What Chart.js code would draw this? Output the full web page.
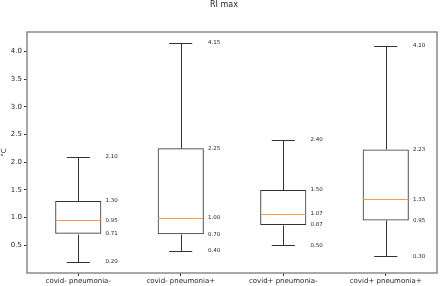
<!DOCTYPE html>
<html>
<head>
<meta charset="utf-8">
<script src="https://cdn.jsdelivr.net/npm/chart.js@4/dist/chart.umd.min.js"></script>
<style>
  html, body { margin: 0; padding: 0; background: #ffffff; }
  #wrap { width: 440px; height: 286px; position: relative; }
</style>
</head>
<body>
<div id="wrap"><canvas id="c" width="440" height="286"></canvas></div>
<script>
// ---- data ----
const chartTitle = 'RI max';
const yAxisLabel = '°C';
const categories = ['covid- pneumonia-', 'covid- pneumonia+', 'covid+ pneumonia-', 'covid+ pneumonia+'];
const whiskerLow  = [0.20, 0.40, 0.50, 0.30];
const q1Values    = [0.71, 0.70, 0.87, 0.95];
const medians     = [0.95, 1.00, 1.07, 1.33];
const q3Values    = [1.30, 2.25, 1.50, 2.23];
const whiskerHigh = [2.10, 4.15, 2.40, 4.10];
const yTickValues = [0.5, 1.0, 1.5, 2.0, 2.5, 3.0, 3.5, 4.0];
const yMin = 0.0025, yMax = 4.3475;

const FONT = 'DejaVu Sans';
const boxColor = '#333333';
const medianColor = '#fb9a45';
const frameColor = '#8a8a8a';
const textColor = '#262626';

const boxPlotPlugin = {
  id: 'boxPlotExtras',
  afterDatasetsDraw(chart) {
    const ctx = chart.ctx;
    const xs = chart.scales.x, ys = chart.scales.y;
    const meta = chart.getDatasetMeta(0);
    ctx.save();
    categories.forEach((c, i) => {
      const bar = meta.data[i];
      const cx = xs.getPixelForValue(i);
      const half = bar.width / 2;
      const capHalf = half / 2;
      const px = v => Math.round(ys.getPixelForValue(v)) + 0.5;
      const xc = Math.round(cx) + 0.5;
      ctx.strokeStyle = boxColor;
      ctx.lineWidth = 1;
      ctx.beginPath();
      // whiskers
      ctx.moveTo(xc, px(whiskerLow[i])); ctx.lineTo(xc, px(q1Values[i]));
      ctx.moveTo(xc, px(q3Values[i])); ctx.lineTo(xc, px(whiskerHigh[i]));
      // caps
      ctx.moveTo(cx - capHalf, px(whiskerLow[i])); ctx.lineTo(cx + capHalf, px(whiskerLow[i]));
      ctx.moveTo(cx - capHalf, px(whiskerHigh[i])); ctx.lineTo(cx + capHalf, px(whiskerHigh[i]));
      ctx.stroke();
      // median
      ctx.strokeStyle = medianColor;
      ctx.beginPath();
      ctx.moveTo(cx - half + 0.5, px(medians[i])); ctx.lineTo(cx + half - 0.5, px(medians[i]));
      ctx.stroke();
      // value annotations
      ctx.fillStyle = textColor;
      ctx.font = '5.5px "' + FONT + '"';
      ctx.textAlign = 'left';
      ctx.textBaseline = 'middle';
      const tx = xs.getPixelForValue(i + 0.265);
      [whiskerLow[i], q1Values[i], medians[i], q3Values[i], whiskerHigh[i]].forEach(v => {
        ctx.fillText(v.toFixed(2), tx, ys.getPixelForValue(v));
      });
    });
    ctx.restore();
  },
  afterDraw(chart) {
    const ctx = chart.ctx;
    const a = chart.chartArea;
    ctx.save();
    ctx.strokeStyle = frameColor;
    ctx.lineWidth = 1.5;
    ctx.strokeRect(a.left, a.top, a.right - a.left, a.bottom - a.top);
    ctx.fillStyle = textColor;
    ctx.font = '8px "' + FONT + '"';
    ctx.textAlign = 'center';
    ctx.textBaseline = 'middle';
    ctx.fillText(chartTitle, 224, 5);
    ctx.restore();
  }
};

new Chart(document.getElementById('c'), {
  type: 'bar',
  data: {
    labels: categories,
    datasets: [{
      data: categories.map((c, i) => [q1Values[i], q3Values[i]]),
      backgroundColor: 'rgba(0,0,0,0)',
      borderColor: boxColor,
      borderWidth: 1,
      borderSkipped: false,
      barPercentage: 0.45,
      categoryPercentage: 1.0
    }]
  },
  options: {
    responsive: false,
    animation: false,
    devicePixelRatio: 1,
    layout: { padding: { top: 32, right: 3, left: 0, bottom: 0 } },
    plugins: {
      legend: { display: false },
      title: { display: false },
      tooltip: { enabled: false }
    },
    scales: {
      x: {
        type: 'category',
        offset: true,
        grid: { display: true, offset: false, drawOnChartArea: false, drawTicks: true, tickLength: 3, color: boxColor },
        border: { display: false },
        ticks: { font: { family: FONT, size: 7 }, color: textColor, padding: 1, maxRotation: 0, autoSkip: false },
        afterFit(s) { s.height = 13; }
      },
      y: {
        type: 'linear',
        min: yMin,
        max: yMax,
        afterBuildTicks(s) { s.ticks = yTickValues.map(v => ({ value: v })); },
        grid: { display: true, drawOnChartArea: false, drawTicks: true, tickLength: 3, color: boxColor },
        border: { display: false },
        ticks: { font: { family: FONT, size: 7 }, color: textColor, padding: 2, callback: v => Number(v).toFixed(1) },
        title: { display: true, text: yAxisLabel, font: { family: FONT, size: 7 }, color: textColor, padding: { top: 0, bottom: 0 } },
        afterFit(s) { s.width = 27; }
      }
    }
  },
  plugins: [boxPlotPlugin]
});
</script>
</body>
</html>
